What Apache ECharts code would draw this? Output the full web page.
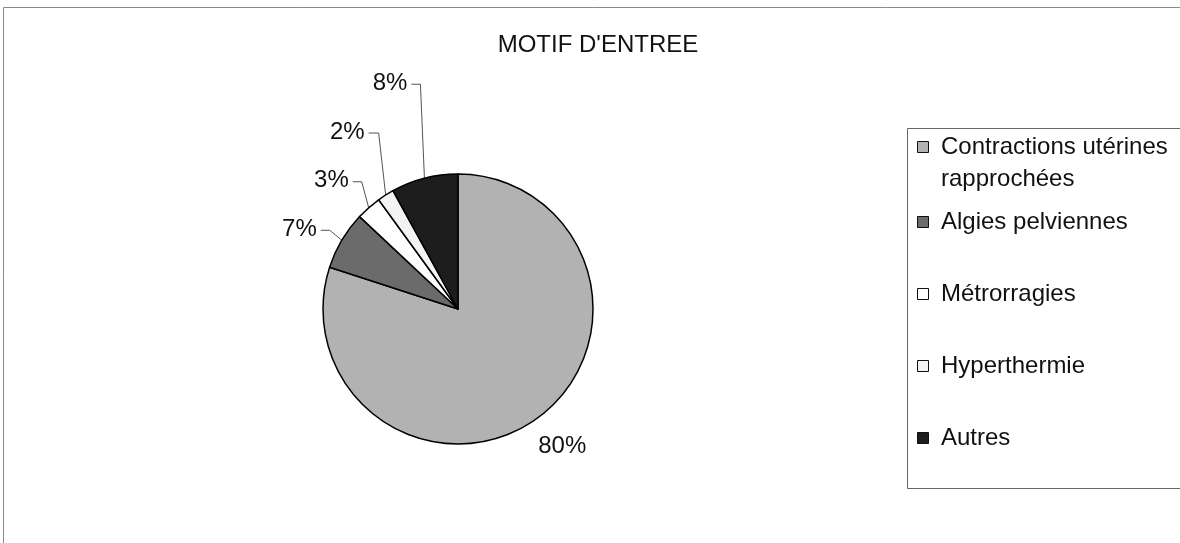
<!DOCTYPE html>
<html>
<head>
<meta charset="utf-8">
<script src="https://cdn.jsdelivr.net/npm/echarts@6/dist/echarts.min.js"></script>
<style>
html,body{margin:0;padding:0;background:#fff;}
#chart{width:1180px;height:543px;}
</style>
</head>
<body>
<div id="chart"></div>
<script>
const chartTitle = "MOTIF D'ENTREE";
const categories = ["Contractions utérines rapprochées", "Algies pelviennes", "Métrorragies", "Hyperthermie", "Autres"];
const values = [80, 7, 3, 2, 8];
const sliceColors = ["#b2b2b2", "#6b6b6b", "#ffffff", "#f3f3f3", "#1d1d1d"];

const FONT = "Liberation Sans, Arial, Helvetica, sans-serif";
// label nudges: [text right offset from slice edge, vertical offset, knee x offset]
const labelNudge = [null, [-25, -11, -12], [-20, -27, -7], [-21, -63, -7], [-17, -95, -4]];
const SQUARE = 'path://M0,0H10V10H0Z';

const chart = echarts.init(document.getElementById('chart'), null, {renderer: 'canvas'});

const pieData = categories.map((name, i) => ({
  name: name,
  value: values[i],
  itemStyle: {color: sliceColors[i]},
  labelLine: {show: i !== 0}
}));

const legendCommon = {
  orient: 'vertical',
  left: 917,
  padding: 0,
  itemWidth: 26,
  itemHeight: 11,
  icon: SQUARE,
  selectedMode: false,
  itemStyle: {borderColor: '#111', borderWidth: 1}
};

const option = {
  backgroundColor: '#ffffff',
  animation: false,
  title: {
    text: chartTitle,
    left: 593,
    textAlign: 'center',
    top: 28,
    textStyle: {fontFamily: FONT, fontSize: 24, fontWeight: 'normal', color: '#111'}
  },
  graphic: [
    {type: 'rect', shape: {x: 3.5, y: 7.5, width: 1300, height: 700}, style: {fill: 'none', stroke: '#8a8a8a', lineWidth: 1}, silent: true},
    {type: 'rect', shape: {x: 907.5, y: 128.5, width: 320, height: 360}, style: {fill: 'none', stroke: '#666', lineWidth: 1}, silent: true}
  ],
  legend: [
    Object.assign({}, legendCommon, {
      data: [categories[0]],
      top: 99,
      itemGap: 0,
      formatter: function (name) {
        const cut = name.lastIndexOf(' ');
        return ' \n' + name.slice(0, cut) + '\n' + name.slice(cut + 1);
      },
      textStyle: {fontFamily: FONT, fontSize: 24, color: '#111', lineHeight: 32}
    }),
    Object.assign({}, legendCommon, {
      data: categories.slice(1),
      top: 207,
      itemGap: 42,
      textStyle: {fontFamily: FONT, fontSize: 24, color: '#111', lineHeight: 30}
    })
  ],
  series: [{
    type: 'pie',
    center: [458, 309],
    radius: 135,
    startAngle: 90,
    clockwise: true,
    avoidLabelOverlap: false,
    data: pieData,
    itemStyle: {borderColor: '#000', borderWidth: 1.5},
    label: {
      show: true,
      position: 'outside',
      formatter: '{d}%',
      fontFamily: FONT,
      fontSize: 24,
      color: '#111'
    },
    labelLine: {
      show: true,
      length: 10,
      length2: 8,
      lineStyle: {color: '#555', width: 1}
    },
    labelLayout: function (params) {
      const i = params.dataIndex;
      if (i === 0) {
        const r = params.labelRect;
        return {x: r.x - 18, y: r.y + r.height / 2 + 20, align: 'left', verticalAlign: 'middle'};
      }
      const pts = params.labelLinePoints;
      if (!pts) return {};
      const e = pts[0];
      const n = labelNudge[i];
      const tx = e[0] + n[0];
      const ty = e[1] + n[1];
      return {
        x: tx,
        y: ty,
        align: 'right',
        verticalAlign: 'middle',
        labelLinePoints: [[e[0], e[1]], [e[0] + n[2], ty + 1], [tx + 4, ty + 1]]
      };
    }
  }]
};

chart.setOption(option);
</script>
</body>
</html>
